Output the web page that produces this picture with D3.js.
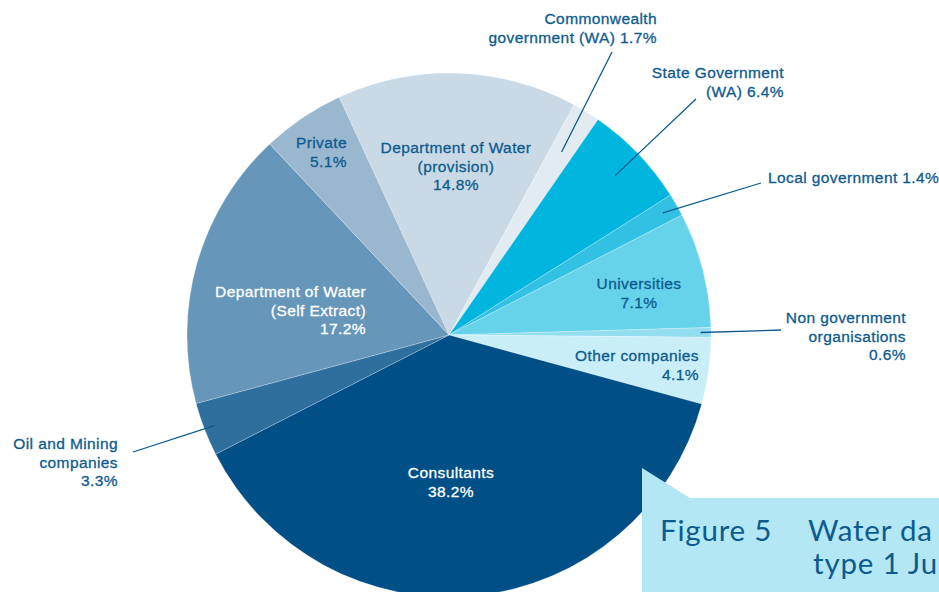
<!DOCTYPE html>
<html>
<head>
<meta charset="utf-8">
<script src="https://cdn.jsdelivr.net/npm/d3@7"></script>
<style>
body { margin: 0; background: #fff; }
</style>
</head>
<body>
<svg id="chart" width="939" height="592"></svg>
<script>
var svg = d3.select("#chart");

// data, clockwise from "Department of Water (provision)"
var categories = ["Department of Water (provision)", "Commonwealth government (WA)", "State Government (WA)",
	"Local government", "Universities", "Non government organisations", "Other companies",
	"Consultants", "Oil and Mining companies", "Department of Water (Self Extract)", "Private"];
var values = [14.8, 1.7, 6.4, 1.4, 7.1, 0.6, 4.1, 38.2, 3.3, 17.2, 5.1];
var colors = ["#c9dae6", "#e3ebf2", "#00b5de", "#33c1e3", "#66d3eb", "#93ddf0", "#c9eef8",
	"#004f86", "#2e6f9e", "#6697bb", "#99b8cf"];

var cx = 449, cy = 335, r = 262;
var startDeg = -24.8;
var textColor = "#0d5a8e";

var pie = d3.pie().sort(null).value(d => d)
	.startAngle(startDeg * Math.PI / 180)
	.endAngle((startDeg + 360) * Math.PI / 180);
var arcs = pie(values);
var arc = d3.arc().innerRadius(0).outerRadius(r);

var g = svg.append("g").attr("transform", "translate(" + cx + "," + cy + ")");
g.selectAll("path").data(arcs).enter().append("path")
	.attr("d", arc)
	.attr("fill", (d, i) => colors[i])
	.attr("stroke", "#ffffff")
	.attr("stroke-opacity", 0.4)
	.attr("stroke-width", 0.6);

// labels: [slice index, x, y, anchor, lines, fill]
var labels = [
	[0, 456, 153, "middle", ["Department of Water", "(provision)", "14.8%"], textColor],
	[1, 657, 24, "end", ["Commonwealth", "government (WA) 1.7%"], textColor],
	[2, 784, 78, "end", ["State Government", "(WA) 6.4%"], textColor],
	[3, 768, 183, "start", ["Local government 1.4%"], textColor],
	[4, 639, 289, "middle", ["Universities", "7.1%"], textColor],
	[5, 906, 323, "end", ["Non government", "organisations", "0.6%"], textColor],
	[6, 699, 361, "end", ["Other companies", "4.1%"], textColor],
	[7, 451, 478, "middle", ["Consultants", "38.2%"], "#ffffff"],
	[8, 118, 449, "end", ["Oil and Mining", "companies", "3.3%"], textColor],
	[9, 366, 297, "end", ["Department of Water", "(Self Extract)", "17.2%"], "#ffffff"],
	[10, 347, 148, "end", ["Private", "5.1%"], textColor]
];

// leader lines: [slice index, inner radius fraction, label end x, y]
var leaders = [
	[1, 0.82, 612, 52],
	[2, 0.88, 696, 99],
	[3, 0.94, 761, 183],
	[5, 0.96, 781, 330],
	[8, 0.96, 133, 452]
];

leaders.forEach(function(l) {
	var a = arcs[l[0]];
	var mid = (a.startAngle + a.endAngle) / 2;
	var rr = r * l[1];
	svg.append("line")
		.attr("x1", cx + rr * Math.sin(mid))
		.attr("y1", cy - rr * Math.cos(mid))
		.attr("x2", l[2])
		.attr("y2", l[3])
		.attr("stroke", textColor)
		.attr("stroke-width", 1.3);
});

labels.forEach(function(l) {
	var t = svg.append("text")
		.attr("x", l[1])
		.attr("y", l[2])
		.attr("text-anchor", l[3])
		.attr("font-family", "'Liberation Sans', Arial, sans-serif")
		.attr("font-size", 15.5)
		.attr("letter-spacing", 0.4)
		.attr("fill", l[5])
		.attr("stroke", l[5])
		.attr("stroke-width", 0.3);
	l[4].forEach(function(s, j) {
		t.append("tspan").attr("x", l[1]).attr("dy", j === 0 ? 0 : 18.7).text(s);
	});
});

// caption box
svg.append("path")
	.attr("d", "M642,468 L690,498 L939,498 L939,592 L642,592 Z")
	.attr("fill", "#b3e7f4");

var cap = svg.append("g")
	.attr("font-family", "Lato, 'Open Sans', sans-serif")
	.attr("font-size", 29.5)
	.attr("letter-spacing", 0.8)
	.attr("fill", "#0d5a8e");
cap.append("text").attr("x", 660).attr("y", 541).text("Figure 5");
cap.append("text").attr("x", 808).attr("y", 541).text("Water da");
cap.append("text").attr("x", 813).attr("y", 574).text("type 1 Ju");
</script>
</body>
</html>
